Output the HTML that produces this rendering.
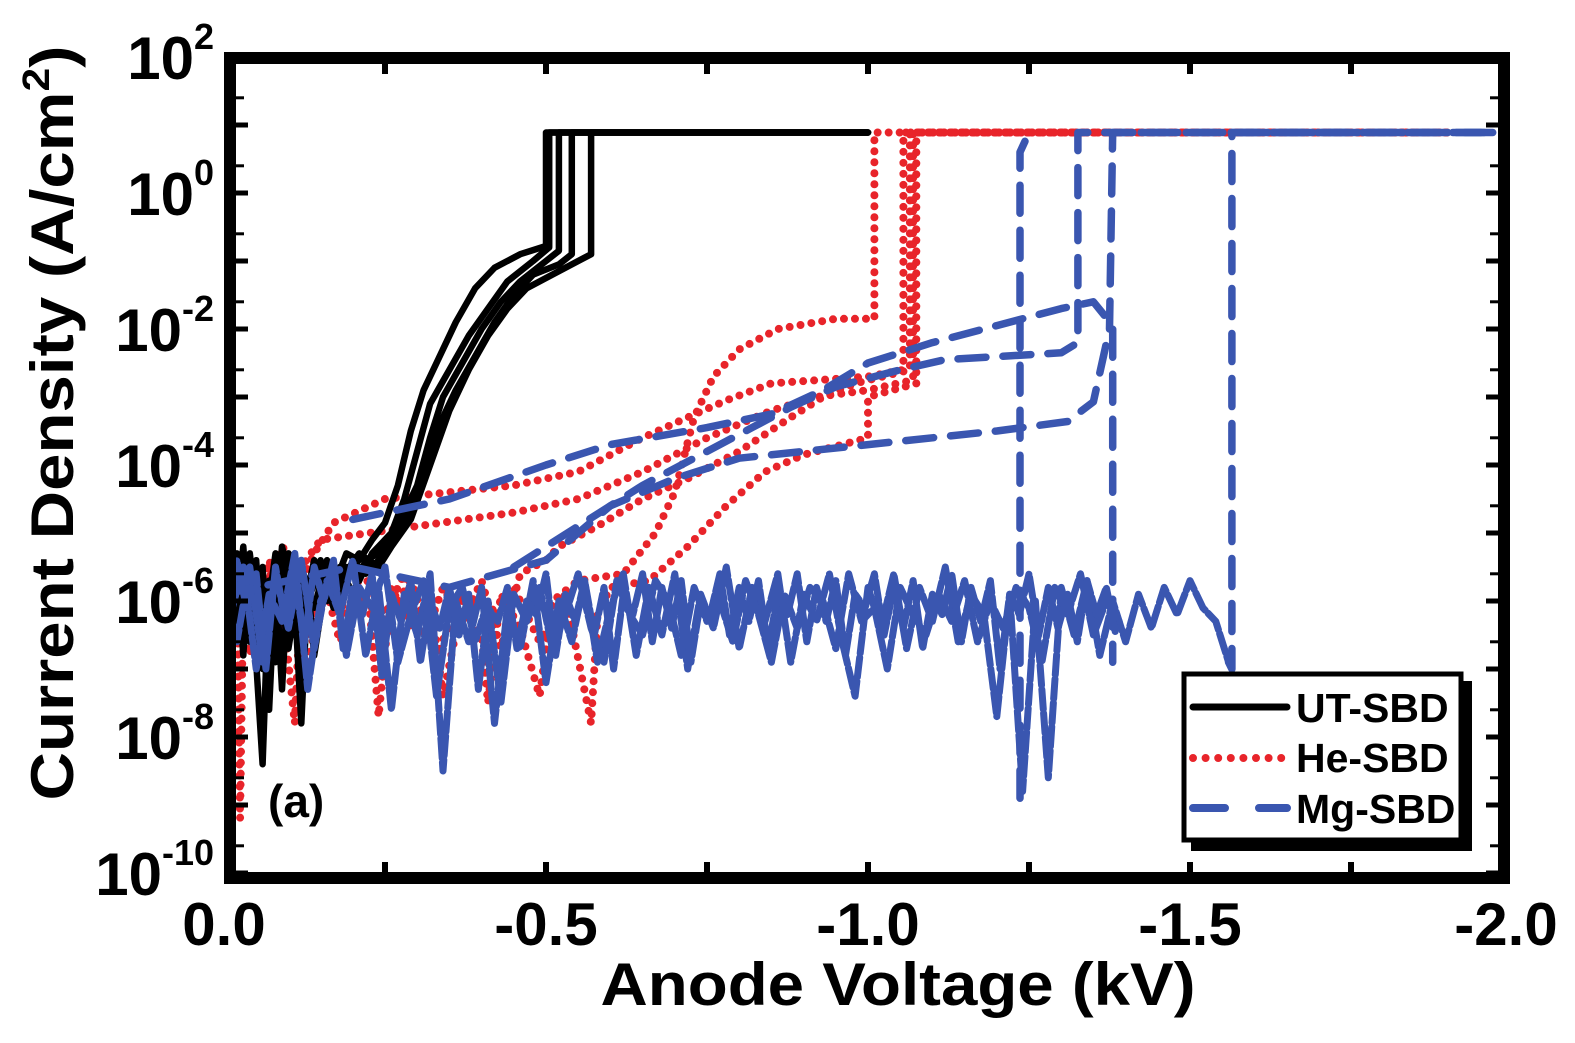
<!DOCTYPE html>
<html><head><meta charset="utf-8">
<style>
html,body{margin:0;padding:0;background:#fff;}
svg{display:block;font-family:"Liberation Sans",Arial,sans-serif;font-weight:bold;}
</style></head>
<body>
<svg id="chart" width="1575" height="1043" viewBox="0 0 1575 1043" xmlns="http://www.w3.org/2000/svg">
<defs><clipPath id="plotclip"><rect x="236" y="64" width="1262" height="808"/></clipPath></defs>
<rect x="0" y="0" width="1575" height="1043" fill="#fff"/>
<g id="series" clip-path="url(#plotclip)"></g>
<g id="axes"></g>
<text x="0" y="0" transform="translate(73,423) rotate(-90)" text-anchor="middle" font-size="60" textLength="755" lengthAdjust="spacingAndGlyphs">Current Density (A/cm<tspan dy="-24" font-size="38">2</tspan><tspan dy="24">)</tspan></text>
<text x="898" y="1005" text-anchor="middle" font-size="60" textLength="595" lengthAdjust="spacingAndGlyphs">Anode Voltage (kV)</text>
<text x="268" y="817" font-size="46">(a)</text>
<g>
<rect x="1191" y="681" width="281" height="170" fill="#000"/>
<rect x="1184" y="674" width="277" height="166" fill="#fff" stroke="#000" stroke-width="5"/>
<line x1="1193" y1="707" x2="1287" y2="707" stroke="#000" stroke-width="7" stroke-linecap="round"/>
<line x1="1193" y1="758" x2="1282" y2="758" stroke="#e8242a" stroke-width="8" stroke-linecap="round" stroke-dasharray="0 12.6"/>
<line x1="1193" y1="808" x2="1287" y2="808" stroke="#3a56b0" stroke-width="8" stroke-linecap="round" stroke-dasharray="32 34"/>
<text x="1296" y="722" font-size="41">UT-SBD</text>
<text x="1296" y="772" font-size="41">He-SBD</text>
<text x="1296" y="823" font-size="41">Mg-SBD</text>
</g>
</svg>
<script>
// ---- data (V in kV magnitude, L = log10 J) ----
const xTicks = [0, 0.5, 1.0, 1.5, 2.0];
const xTickLabels = ["0.0", "-0.5", "-1.0", "-1.5", "-2.0"];
const yTickExps = [2, 0, -2, -4, -6, -8, -10];
const ut1 = [[0,-5.2],[.01,-6.3],[.02,-5.4],[.03,-6.8],[.04,-5.3],[.05,-6.1],[.06,-5.5],[.07,-7.6],[.08,-5.6],[.09,-6.2],[.10,-5.3],[.11,-6.5],[.12,-5.6],[.13,-6.0],[.15,-5.5],[.17,-5.8],[.19,-5.3],[.21,-5.4],[.23,-5.1],[.25,-4.85],[.27,-4.3],[.29,-3.5],[.31,-2.9],[.33,-2.5],[.36,-1.9],[.39,-1.4],[.42,-1.1],[.46,-0.9],[.50,-0.78],[.50,0.89],[1.0,0.89]];
const ut2 = [[0,-5.6],[.01,-5.0],[.02,-6.6],[.03,-5.5],[.05,-6.9],[.06,-8.4],[.07,-5.7],[.08,-6.4],[.09,-5.2],[.11,-6.0],[.12,-7.8],[.13,-5.8],[.15,-5.4],[.17,-6.1],[.19,-5.5],[.21,-5.7],[.23,-5.3],[.26,-5.0],[.28,-4.5],[.30,-3.8],[.32,-3.1],[.35,-2.6],[.38,-2.1],[.41,-1.7],[.44,-1.3],[.48,-1.0],[.505,-0.8],[.505,0.89],[1.0,0.89]];
const ut3 = [[0,-6.0],[.01,-7.2],[.02,-5.3],[.04,-6.2],[.05,-5.4],[.06,-7.0],[.08,-5.5],[.09,-7.3],[.10,-5.6],[.12,-6.3],[.14,-5.4],[.16,-6.0],[.18,-5.5],[.20,-5.9],[.22,-5.4],[.24,-5.3],[.27,-4.9],[.30,-4.3],[.32,-3.6],[.34,-3.0],[.37,-2.5],[.40,-2.0],[.43,-1.6],[.46,-1.3],[.50,-1.0],[.52,-0.85],[.52,0.89],[1.0,0.89]];
const ut4 = [[0,-5.4],[.02,-6.1],[.03,-5.2],[.04,-6.6],[.06,-5.6],[.08,-6.9],[.09,-5.4],[.11,-6.2],[.13,-5.7],[.14,-6.8],[.16,-5.6],[.18,-5.9],[.20,-5.4],[.22,-5.6],[.25,-5.3],[.28,-4.9],[.31,-4.2],[.33,-3.5],[.36,-2.9],[.39,-2.4],[.42,-1.9],[.45,-1.5],[.48,-1.2],[.52,-1.05],[.54,-0.9],[.54,0.89],[1.0,0.89]];
const ut5 = [[0,-5.8],[.01,-5.3],[.03,-6.4],[.05,-5.5],[.07,-6.0],[.08,-5.3],[.10,-6.7],[.12,-5.5],[.14,-6.1],[.16,-5.4],[.18,-5.7],[.21,-5.3],[.24,-5.5],[.26,-5.2],[.29,-4.8],[.32,-4.0],[.35,-3.2],[.38,-2.6],[.41,-2.1],[.44,-1.7],[.47,-1.4],[.51,-1.2],[.55,-1.0],[.57,-0.9],[.57,0.89],[1.0,0.89]];
const he1 = [[0,-5.6],[.01,-6.4],[.02,-5.3],[.025,-9.2],[.03,-5.8],[.05,-6.2],[.07,-5.4],[.09,-6.0],[.11,-7.8],[.12,-5.7],[.14,-5.3],[.17,-4.85],[.25,-4.5],[.35,-4.4],[.45,-4.3],[.55,-4.1],[.65,-3.6],[.72,-3.3],[.78,-3.05],[.85,-2.8],[1.0,-2.7],[1.055,-2.6],[1.055,0.89],[1.9,0.89]];
const he2 = [[0,-6.2],[.02,-5.5],[.04,-6.8],[.06,-5.7],[.08,-6.3],[.10,-5.5],[.13,-6.5],[.16,-5.6],[.19,-6.2],[.22,-5.4],[.24,-7.7],[.26,-5.8],[.29,-6.4],[.32,-5.9],[.34,-7.4],[.37,-6.0],[.40,-6.5],[.41,-7.5],[.43,-5.9],[.46,-6.4],[.49,-7.4],[.51,-6.0],[.55,-5.7],[.62,-5.6],[.67,-5.0],[.70,-4.4],[.73,-3.3],[.76,-2.7],[.80,-2.3],[.86,-2.0],[.95,-1.85],[1.01,-1.85],[1.01,0.89],[1.9,0.89]];
const he3 = [[0,-5.9],[.02,-6.6],[.04,-5.6],[.07,-6.3],[.10,-5.8],[.13,-6.9],[.16,-5.7],[.19,-6.4],[.22,-5.9],[.25,-6.2],[.28,-5.6],[.31,-6.6],[.34,-5.8],[.37,-6.3],[.40,-5.7],[.43,-6.7],[.46,-5.6],[.50,-5.4],[.52,-5.2],[.58,-4.9],[.65,-4.5],[.72,-4.2],[.80,-3.8],[.88,-3.3],[.93,-3.0],[.98,-2.8],[1.065,-2.6],[1.065,0.89],[1.9,0.89]];
const he4 = [[0,-6.5],[.03,-5.8],[.06,-6.4],[.09,-5.6],[.12,-6.1],[.15,-5.5],[.18,-6.6],[.21,-5.9],[.25,-6.3],[.29,-5.7],[.33,-6.8],[.37,-5.9],[.41,-6.2],[.45,-5.8],[.49,-6.6],[.53,-5.9],[.57,-7.8],[.58,-6.2],[.6,-5.8],[.66,-5.7],[.72,-5.2],[.78,-4.6],[.84,-4.1],[.90,-3.85],[.96,-3.7],[1.0,-3.6],[1.0,-3.0],[1.075,-2.8],[1.075,0.89],[1.9,0.89]];
const he5 = [[0,-5.7],[.03,-5.3],[.06,-5.9],[.09,-5.2],[.12,-5.5],[.15,-5.1],[.3,-4.9],[.45,-4.7],[.55,-4.5],[.65,-4.1],[.75,-3.6],[.85,-3.2],[.92,-3.0],[1.0,-2.9],[1.07,-2.75],[1.07,0.89],[1.9,0.89]];
const mgNoiseAStart = 0, mgNoiseAStep = 0.02;
const mgNoiseA = [-5.8,-6.6,-5.5,-6.9,-5.6,-6.4,-5.4,-6.7,-5.7,-6.2,-5.4,-6.8,-5.8,-7.6,-5.9,-6.5,-5.6,-8.5,-6.0,-6.6,-5.8,-7.8,-6.1,-6.7,-5.7,-7.2,-6.0,-6.6,-5.7,-6.9,-6.1,-5.6,-6.8,-5.8,-6.5,-5.6,-7.0,-5.9,-6.4,-5.5,-6.7,-5.8,-6.3,-5.6,-6.9,-5.9,-6.3,-5.6,-6.6,-7.4,-5.8,-6.4,-5.6,-6.7,-5.8,-6.3,-5.5,-6.6,-5.9,-6.2,-7.7,-5.9,-8.8,-6.0,-8.6,-5.8,-6.5,-5.7,-6.8,-6.0,-6.6,-5.9,-6.4,-5.8,-6.2,-5.7,-6.1,-6.3,-6.9];
const mgNoiseBStart = 0.01, mgNoiseBStep = 0.02;
const mgNoiseB = [-6.2,-5.5,-7.0,-5.9,-6.3,-5.3,-7.3,-6.0,-5.6,-6.8,-5.8,-6.1,-5.5,-6.9,-6.2,-5.7,-7.4,-6.1,-5.8,-6.6,-6.0,-7.5,-5.9,-6.3,-5.8,-6.7,-6.2,-5.6,-6.4,-6.9,-5.7,-6.2,-6.5,-5.7,-6.0,-6.8,-5.8,-6.3,-6.0,-6.6,-5.7,-6.2,-6.9,-5.9,-6.4,-5.8,-6.0,-6.7,-5.6,-6.3,-6.1,-7.0,-5.8,-6.2,-6.5,-5.9,-6.3,-5.7,-6.6,-6.0,-6.4,-5.8,-6.1,-6.9,-5.8,-6.2,-5.6,-6.5,-6.0,-6.3];
const mgNoiseCStart = 0.005, mgNoiseCStep = 0.015;
const mgNoiseC = [-6.4,-5.4,-6.1,-5.6,-7.0,-5.5,-6.3,-5.7,-6.6,-5.5,-6.0,-5.4,-6.7,-5.8,-6.2,-5.6,-7.1,-5.9,-6.3,-5.7,-6.9,-6.0,-6.4,-5.8,-6.5,-5.9,-7.3,-6.1,-6.3,-5.8,-6.7,-6.0,-6.2,-5.6,-6.8,-5.9,-6.3,-5.7,-6.5,-5.8,-7.0,-5.9,-6.2,-5.6,-6.6,-5.8,-6.4,-5.7,-6.9,-6.0,-6.2,-5.6,-6.5,-5.8,-6.3,-5.7,-6.7,-5.9,-6.2,-5.6,-6.6,-5.8,-6.3,-5.7,-6.8,-5.9,-6.1,-5.6,-6.5,-5.8,-6.4,-5.7,-6.7,-5.9,-6.2,-5.6,-6.6,-5.8,-6.3,-5.7,-7.0,-5.9,-6.2,-5.6,-6.5,-5.8,-6.4,-5.9,-6.6,-5.7,-6.2,-5.8,-6.5];
const mg1 = [[.2,-4.8],[.35,-4.5],[.5,-4.0],[.6,-3.7],[.75,-3.45],[.85,-3.25],[.93,-2.9],[1.0,-2.5],[1.1,-2.2],[1.2,-1.95],[1.3,-1.7],[1.35,-1.6],[1.38,-1.95],[1.38,-6.9]];
const mg2 = [[0,-5.9],[.2,-5.5],[.35,-5.8],[.5,-5.4],[.6,-4.6],[.7,-4.2],[.8,-3.9],[.9,-3.8],[1.0,-3.7],[1.2,-3.5],[1.31,-3.36],[1.35,-3.07],[1.375,-2.0],[1.38,0.89],[1.97,0.89]];
const mg3 = [[.45,-5.5],[.55,-4.9],[.65,-4.3],[.75,-3.8],[.82,-3.45],[.88,-3.15],[.95,-2.85],[1.05,-2.6],[1.12,-2.45],[1.3,-2.35],[1.326,-2.2],[1.326,0.89],[1.97,0.89]];
const mg4 = [[1.56,-6.9],[1.565,-7.0],[1.565,0.89],[1.97,0.89]];
const mg5 = [[1.236,-8.9],[1.236,0.6],[1.25,0.89]];

// ---- axis functions ----
function xs(v){ return 224 + 644*v; }
function ys(l){ return 193 - 68*l; }
const NS = "http://www.w3.org/2000/svg";
const gS = document.getElementById('series');
const gA = document.getElementById('axes');
function expand(start, step, arr){ return arr.map((l,i)=>[start+step*i, l]); }
function path(pts, color, w, dash, name){
  const p = document.createElementNS(NS,'path');
  p.setAttribute('d', pts.map((q,i)=>(i?'L':'M')+xs(q[0]).toFixed(1)+' '+ys(q[1]).toFixed(1)).join(''));
  p.setAttribute('fill','none');
  p.setAttribute('stroke',color);
  p.setAttribute('stroke-width',w);
  p.setAttribute('stroke-linejoin','round');
  p.setAttribute('stroke-linecap','round');
  if(dash) p.setAttribute('stroke-dasharray',dash);
  
  
  gS.appendChild(p);
}
const RED='#e8242a', BLUE='#3a56b0';
const heList=[he1,he2,he3,he4,he5];
heList.forEach((s,i)=>path(s,RED,8,'0 11','he-sbd-curve-'+(i+1)));
[ut1,ut2,ut3,ut4,ut5].forEach((s,i)=>path(s,'#000',6.5,null,'ut-sbd-curve-'+(i+1)));
path(expand(mgNoiseAStart,mgNoiseAStep,mgNoiseA),BLUE,7,'20 4','mg-sbd-noise-a');
path(expand(mgNoiseBStart,mgNoiseBStep,mgNoiseB),BLUE,7,'20 4','mg-sbd-noise-b');
path(expand(mgNoiseCStart,mgNoiseCStep,mgNoiseC),BLUE,7,'20 4','mg-sbd-noise-c');
[mg1,mg2,mg3,mg4,mg5].forEach((s,i)=>path(s,BLUE,7.5,'28 17','mg-sbd-curve-'+(i+1)));

// frame
const fr = document.createElementNS(NS,'rect');
fr.setAttribute('x',230); fr.setAttribute('y',58); fr.setAttribute('width',1274); fr.setAttribute('height',820);
fr.setAttribute('fill','none'); fr.setAttribute('stroke','#000'); fr.setAttribute('stroke-width',12);


gA.appendChild(fr);
function line(x1,y1,x2,y2,w,name){
  const l=document.createElementNS(NS,'line');
  l.setAttribute('x1',x1);l.setAttribute('y1',y1);l.setAttribute('x2',x2);l.setAttribute('y2',y2);
  l.setAttribute('stroke','#000');l.setAttribute('stroke-width',w);
  
  
  gA.appendChild(l);
}
for(let k=1;k<8;k++){
  const x=xs(k*0.25);
  line(x,872,x,862,6,'x-tick');
  line(x,64,x,74,6,'x-tick-top');
}
for(let e=-10;e<=2;e++){
  const y=ys(e);
  line(236,y,248,y,5,'y-tick');
  line(1498,y,1486,y,5,'y-tick-right');
  if(e<2){ const ym=ys(e+0.4); line(236,ym,244,ym,3,'y-minor-tick'); line(1498,ym,1490,ym,3,'y-minor-tick-right'); }
}
xTicks.forEach((v,i)=>{
  const t=document.createElementNS(NS,'text');
  t.setAttribute('x', i===4 ? xs(v)-6 : xs(v)); t.setAttribute('y',945);
  t.setAttribute('text-anchor','middle'); t.setAttribute('font-size',60);
  t.textContent=xTickLabels[i];
  
  
  gA.appendChild(t);
});
yTickExps.forEach(e=>{
  const t=document.createElementNS(NS,'text');
  t.setAttribute('x',214); t.setAttribute('y',ys(e)+22);
  t.setAttribute('text-anchor','end'); t.setAttribute('font-size',60);
  const base=document.createElementNS(NS,'tspan');
  base.textContent='10';
  t.appendChild(base);
  const s=document.createElementNS(NS,'tspan');
  s.setAttribute('dy',-30); s.setAttribute('font-size',36);
  s.textContent=String(e);
  t.appendChild(s);
  
  
  gA.appendChild(t);
});
</script>
</body></html>
